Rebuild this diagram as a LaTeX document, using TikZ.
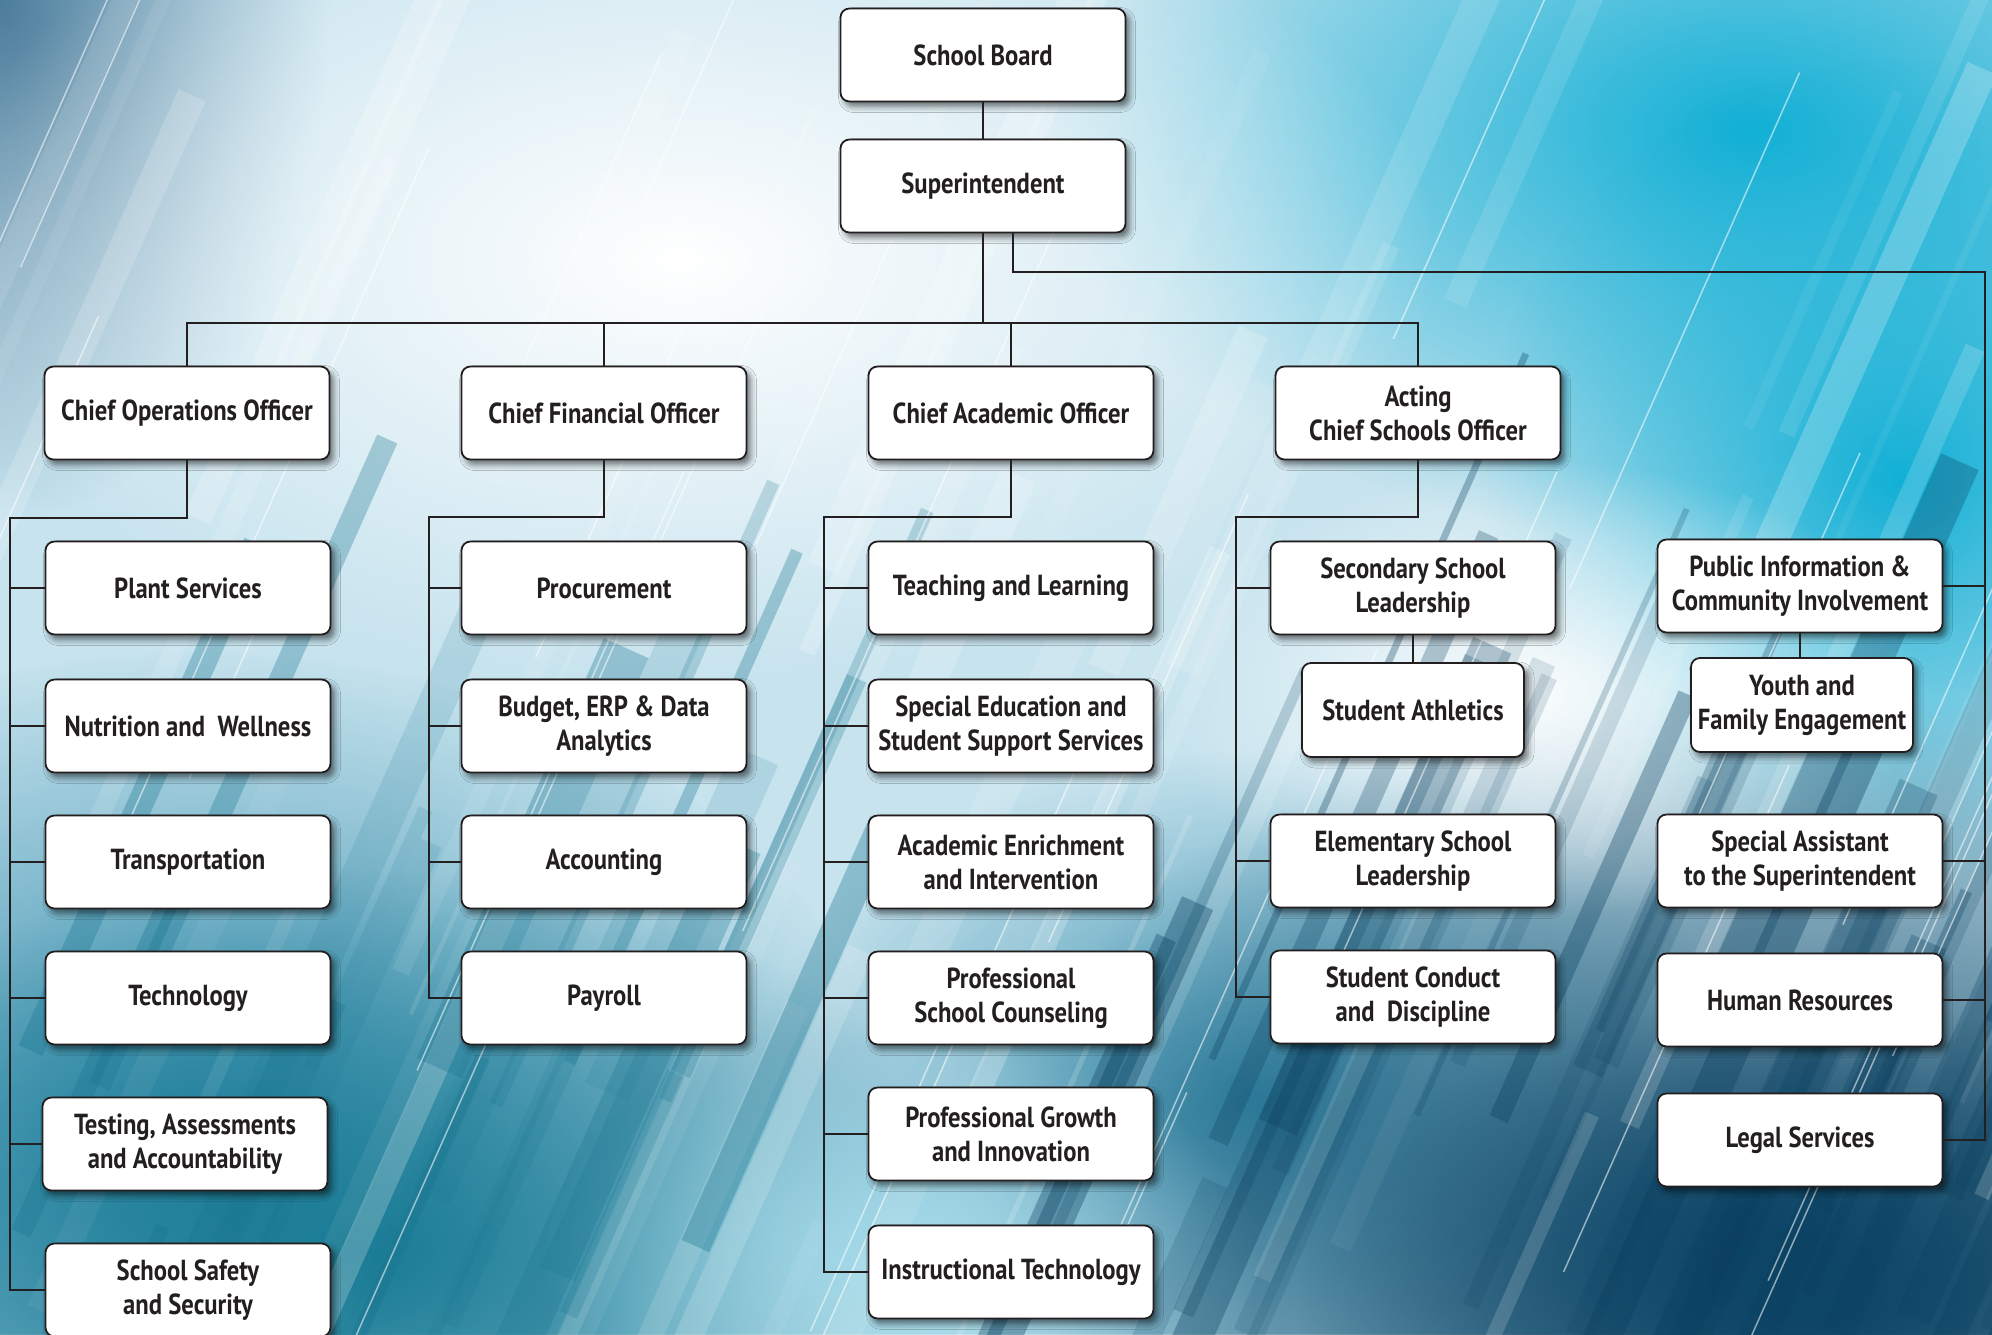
\documentclass[tikz,border=0pt]{standalone}
\usepackage{fontspec}
\setmainfont{PT Sans}[FakeStretch=0.85]
\usetikzlibrary{shadows.blur,fadings,shadings}
\tikzfading[name=glowfade, inner color=transparent!0, outer color=transparent!100]
\definecolor{ink}{HTML}{231F20}
\definecolor{bgbase}{HTML}{C6E3EE}
\definecolor{bgcyan}{HTML}{12B0D6}
\definecolor{bgteal}{HTML}{1A7C95}
\definecolor{bgnavy}{HTML}{0D4566}
\definecolor{bgslate}{HTML}{4D7D9C}
\definecolor{bgmid}{HTML}{2A86A6}
\definecolor{glowcyan}{HTML}{A6DCEB}
\definecolor{darkstreak}{HTML}{0A3F5E}
\definecolor{midstreak}{HTML}{1A7590}
\begin{document}
\begin{tikzpicture}[x=1pt,y=-1pt,
  orgbox/.style={draw=ink, line width=1.8pt, fill=white, rounded corners=9pt,
    minimum width=285pt, minimum height=93pt, align=center, inner sep=2pt,
    text=ink, font=\bfseries\fontsize{29}{34}\selectfont,
    blur shadow={shadow xshift=4pt, shadow yshift=-5pt, shadow blur radius=6pt, shadow opacity=55}},
  smallbox/.style={orgbox, minimum width=222pt, minimum height=94pt},
  link/.style={draw=ink, line width=2pt}]
% ---------- background ----------
\clip (0,0) rectangle (1992,1334);
\fill[bgbase] (0,0) rectangle (1992,1334);
\fill[bgcyan, path fading=glowfade] (1750,130) ellipse (700 and 420);
\fill[bgcyan, path fading=glowfade] (1900,480) ellipse (420 and 420);
\fill[bgslate, path fading=glowfade] (0,0) ellipse (330 and 520);
\fill[bgmid, path fading=glowfade] (200,1150) ellipse (700 and 500);
\fill[bgteal, path fading=glowfade] (350,1250) ellipse (650 and 380);
\fill[bgmid, path fading=glowfade, fill opacity=0.9] (1250,1100) ellipse (500 and 350);
\fill[bgnavy, path fading=glowfade] (1780,1250) ellipse (820 and 560);
\fill[bgnavy, path fading=glowfade] (1800,1300) ellipse (500 and 300);
\fill[glowcyan, path fading=glowfade, fill opacity=0.95] (900,1260) ellipse (360 and 220);
\fill[white, path fading=glowfade, fill opacity=1] (680,260) ellipse (760 and 430);
\fill[white, path fading=glowfade, fill opacity=0.9] (1540,690) ellipse (380 and 230);
\pgfmathsetseed{23}
\foreach \i in {1,...,60}{
  \pgfmathsetmacro{\sx}{-500+rnd*2600}
  \pgfmathsetmacro{\sy}{300+rnd*1300}
  \pgfmathsetmacro{\sw}{3+rnd*36}
  \pgfmathsetmacro{\so}{0.05+rnd*0.18}
  \pgfmathsetmacro{\sl}{300+rnd*900}
  \draw[white, line width=\sw pt, opacity=\so] (\sx,\sy) -- ++(-66:\sl);
}
\foreach \i in {1,...,50}{
  \pgfmathsetmacro{\sx}{950+rnd*1200}
  \pgfmathsetmacro{\sy}{1000+rnd*450}
  \pgfmathsetmacro{\sw}{6+rnd*36}
  \pgfmathsetmacro{\so}{0.12+rnd*0.25}
  \pgfmathsetmacro{\sl}{250+rnd*600}
  \draw[darkstreak, line width=\sw pt, opacity=\so] (\sx,\sy) -- ++(-66:\sl);
}
\foreach \i in {1,...,25}{
  \pgfmathsetmacro{\sx}{-100+rnd*800}
  \pgfmathsetmacro{\sy}{1050+rnd*450}
  \pgfmathsetmacro{\sw}{10+rnd*40}
  \pgfmathsetmacro{\so}{0.12+rnd*0.25}
  \pgfmathsetmacro{\sl}{250+rnd*500}
  \draw[midstreak, line width=\sw pt, opacity=\so] (\sx,\sy) -- ++(-66:\sl);
}
\foreach \i in {1,...,30}{
  \pgfmathsetmacro{\sx}{-300+rnd*2400}
  \pgfmathsetmacro{\sy}{200+rnd*1300}
  \pgfmathsetmacro{\sl}{200+rnd*700}
  \draw[white, line width=1.5pt, opacity=0.55] (\sx,\sy) -- ++(-66:\sl);
}
% ---------- top ----------
\node[orgbox] (board) at (983,55) {School Board};
\node[orgbox] (supt) at (983,186) {Superintendent};
% ---------- chiefs ----------
\node[orgbox] (coo) at (187,413) {Chief Operations Officer};
\node[orgbox] (cfo) at (604,413) {Chief Financial Officer};
\node[orgbox] (cao) at (1011,413) {Chief Academic Officer};
\node[orgbox] (cso) at (1418,413) {Acting\\Chief Schools Officer};
% ---------- column A ----------
\node[orgbox] (plant) at (188,588) {Plant Services};
\node[orgbox] (nutrition) at (188,726) {Nutrition and\ \ Wellness};
\node[orgbox] (transport) at (188,862) {Transportation};
\node[orgbox] (tech) at (188,998) {Technology};
\node[orgbox] (testing) at (185,1144) {Testing, Assessments\\and Accountability};
\node[orgbox] (safety) at (188,1290) {School Safety\\and Security};
% ---------- column B ----------
\node[orgbox] (procure) at (604,588) {Procurement};
\node[orgbox] (budget) at (604,726) {Budget, ERP \& Data\\Analytics};
\node[orgbox] (account) at (604,862) {Accounting};
\node[orgbox] (payroll) at (604,998) {Payroll};
% ---------- column C ----------
\node[orgbox] (teach) at (1011,588) {Teaching and Learning};
\node[orgbox] (sped) at (1011,726) {Special Education and\\Student Support Services};
\node[orgbox] (enrich) at (1011,862) {Academic Enrichment\\and Intervention};
\node[orgbox] (counsel) at (1011,998) {Professional\\School Counseling};
\node[orgbox] (growth) at (1011,1134) {Professional Growth\\and Innovation};
\node[orgbox] (instr) at (1011,1272) {Instructional Technology};
% ---------- column D ----------
\node[orgbox] (second) at (1413,588) {Secondary School\\Leadership};
\node[smallbox] (athl) at (1413,710) {Student Athletics};
\node[orgbox] (elem) at (1413,861) {Elementary School\\Leadership};
\node[orgbox] (conduct) at (1413,997) {Student Conduct\\and\ \ Discipline};
% ---------- column E ----------
\node[orgbox] (pubinfo) at (1800,586) {Public Information \&\\Community Involvement};
\node[smallbox] (youth) at (1802,705) {Youth and\\Family Engagement};
\node[orgbox] (special) at (1800,861) {Special Assistant\\to the Superintendent};
\node[orgbox] (hr) at (1800,1000) {Human Resources};
\node[orgbox] (legal) at (1800,1140) {Legal Services};
% ---------- connectors ----------
\draw[link] (board.south) -- (supt.north);
\coordinate (hub) at (986,323);
\draw[link] (supt.south) -- (supt.south |- hub);
\draw[link] (coo.north) |- (hub) -| (cso.north);
\draw[link] (cfo.north) -- (cfo.north |- hub);
\draw[link] (cao.north) -- (cao.north |- hub);
% right branch
\coordinate (rcorner) at (1985,272);
\draw[link] ([xshift=30pt]supt.south) |- (rcorner) |- (legal.east);
\foreach \n in {pubinfo,special,hr}{
  \draw[link] (rcorner |- \n.east) -- (\n.east);
}
\draw[link] (pubinfo.south) -- (pubinfo.south |- youth.north);
% column A
\coordinate (busA) at (10,518);
\draw[link] (coo.south) |- (busA) |- (safety.west);
\foreach \n in {plant,nutrition,transport,tech,testing}{
  \draw[link] (busA |- \n.west) -- (\n.west);
}
% column B
\coordinate (busB) at (429,517);
\draw[link] (cfo.south) |- (busB) |- (payroll.west);
\foreach \n in {procure,budget,account}{
  \draw[link] (busB |- \n.west) -- (\n.west);
}
% column C
\coordinate (busC) at (824,517);
\draw[link] (cao.south) |- (busC) |- (instr.west);
\foreach \n in {teach,sped,enrich,counsel,growth}{
  \draw[link] (busC |- \n.west) -- (\n.west);
}
% column D
\coordinate (busD) at (1236,517);
\draw[link] (cso.south) |- (busD) |- (conduct.west);
\foreach \n in {second,elem}{
  \draw[link] (busD |- \n.west) -- (\n.west);
}
\draw[link] (second.south) -- (athl.north);
\end{tikzpicture}
\end{document}
